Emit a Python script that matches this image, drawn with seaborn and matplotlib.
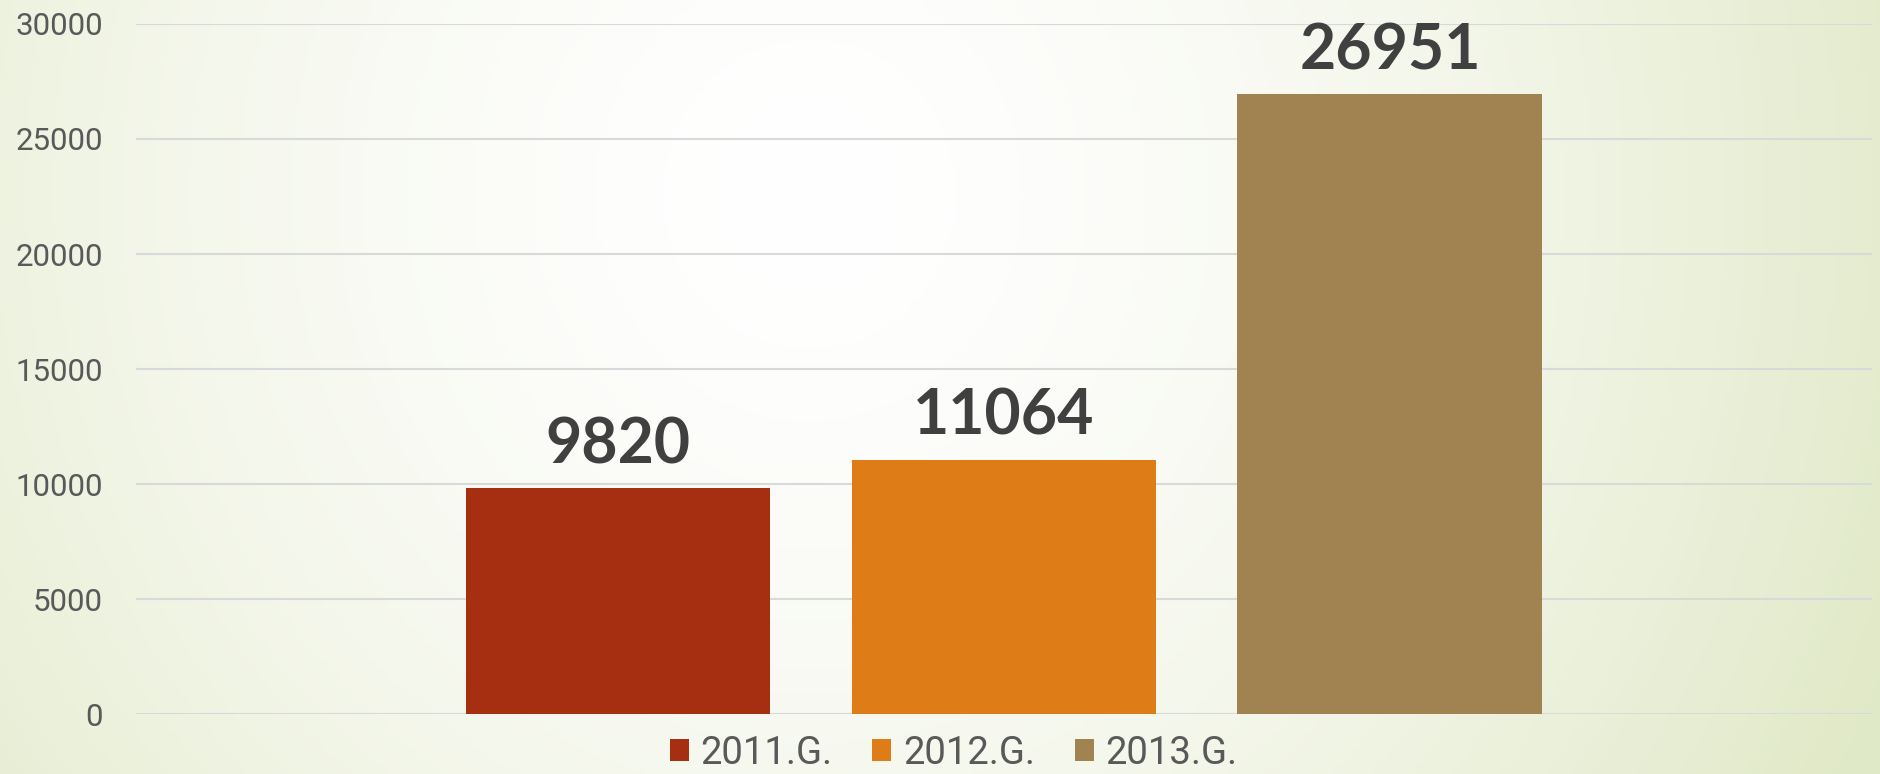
import numpy as np
import pandas as pd
import matplotlib
matplotlib.use("Agg")
import matplotlib.pyplot as plt
import seaborn as sns
from matplotlib.patches import Patch

# ---- data ----
years = ["2011.G.", "2012.G.", "2013.G."]
values = [9820, 11064, 26951]
bar_colors = ["#A52F10", "#DE7D18", "#A08350"]
yticks = [0, 5000, 10000, 15000, 20000, 25000, 30000]

df = pd.DataFrame({"group": [""] * len(years), "year": years, "value": values})

sns.set_theme(style="white")
plt.rcParams["font.family"] = ["Roboto", "DejaVu Sans"]

fig = plt.figure(figsize=(18.81, 7.74), dpi=100)

# background gradient (white centre, pale green edges)
bg = fig.add_axes([0, 0, 1, 1], zorder=-10)
h, w = 200, 400
yy, xx = np.mgrid[0:1:h * 1j, 0:1:w * 1j]
d = np.sqrt(((xx - 0.43) / 0.62) ** 2 + ((yy - 0.25) / 1.6) ** 2)
t = np.clip(d, 0, 1) ** 1.6
white = np.array([1.0, 1.0, 1.0])
edge = np.array([0.882, 0.914, 0.784])
img = white[None, None, :] * (1 - t[..., None]) + edge[None, None, :] * t[..., None]
bg.imshow(img, aspect="auto", extent=[0, 1, 0, 1], origin="upper")
bg.axis("off")

ax = fig.add_axes([0.0723, 0.0775, 0.9229, 0.8915])
ax.patch.set_alpha(0)
sns.barplot(data=df, x="group", y="value", hue="year", palette=bar_colors,
            width=0.667, gap=0.21, saturation=1, linewidth=0, ax=ax, legend=False)

ax.set_xlim(-0.5, 0.5)
ax.set_ylim(0, 30000)
ax.set_yticks(yticks)
ax.set_yticklabels([str(v) for v in yticks], fontsize=22.5, color="#595959")
ax.set_xticks([])
ax.set_xlabel("")
ax.set_ylabel("")
ax.tick_params(axis="y", length=0, pad=24)
for s in ax.spines.values():
    s.set_visible(False)
ax.yaxis.grid(True, color="#d9d9d9", linewidth=1.5)
ax.set_axisbelow(True)

for cont in ax.containers:
    ax.bar_label(cont, fmt="%d", padding=10, fontsize=45, fontweight="bold",
                 color="#404040", family="Lato")

handles = [Patch(facecolor=c, edgecolor="none") for c in bar_colors]
fig.legend(handles, years, loc="center", bbox_to_anchor=(0.507, 0.027), ncol=3,
           frameon=False, handlelength=0.5, handleheight=0.5,
           handletextpad=0.3, columnspacing=1.05, labelcolor="#595959",
           prop={"family": "Roboto", "size": 27.5})

fig.savefig("out.png", dpi=100)
